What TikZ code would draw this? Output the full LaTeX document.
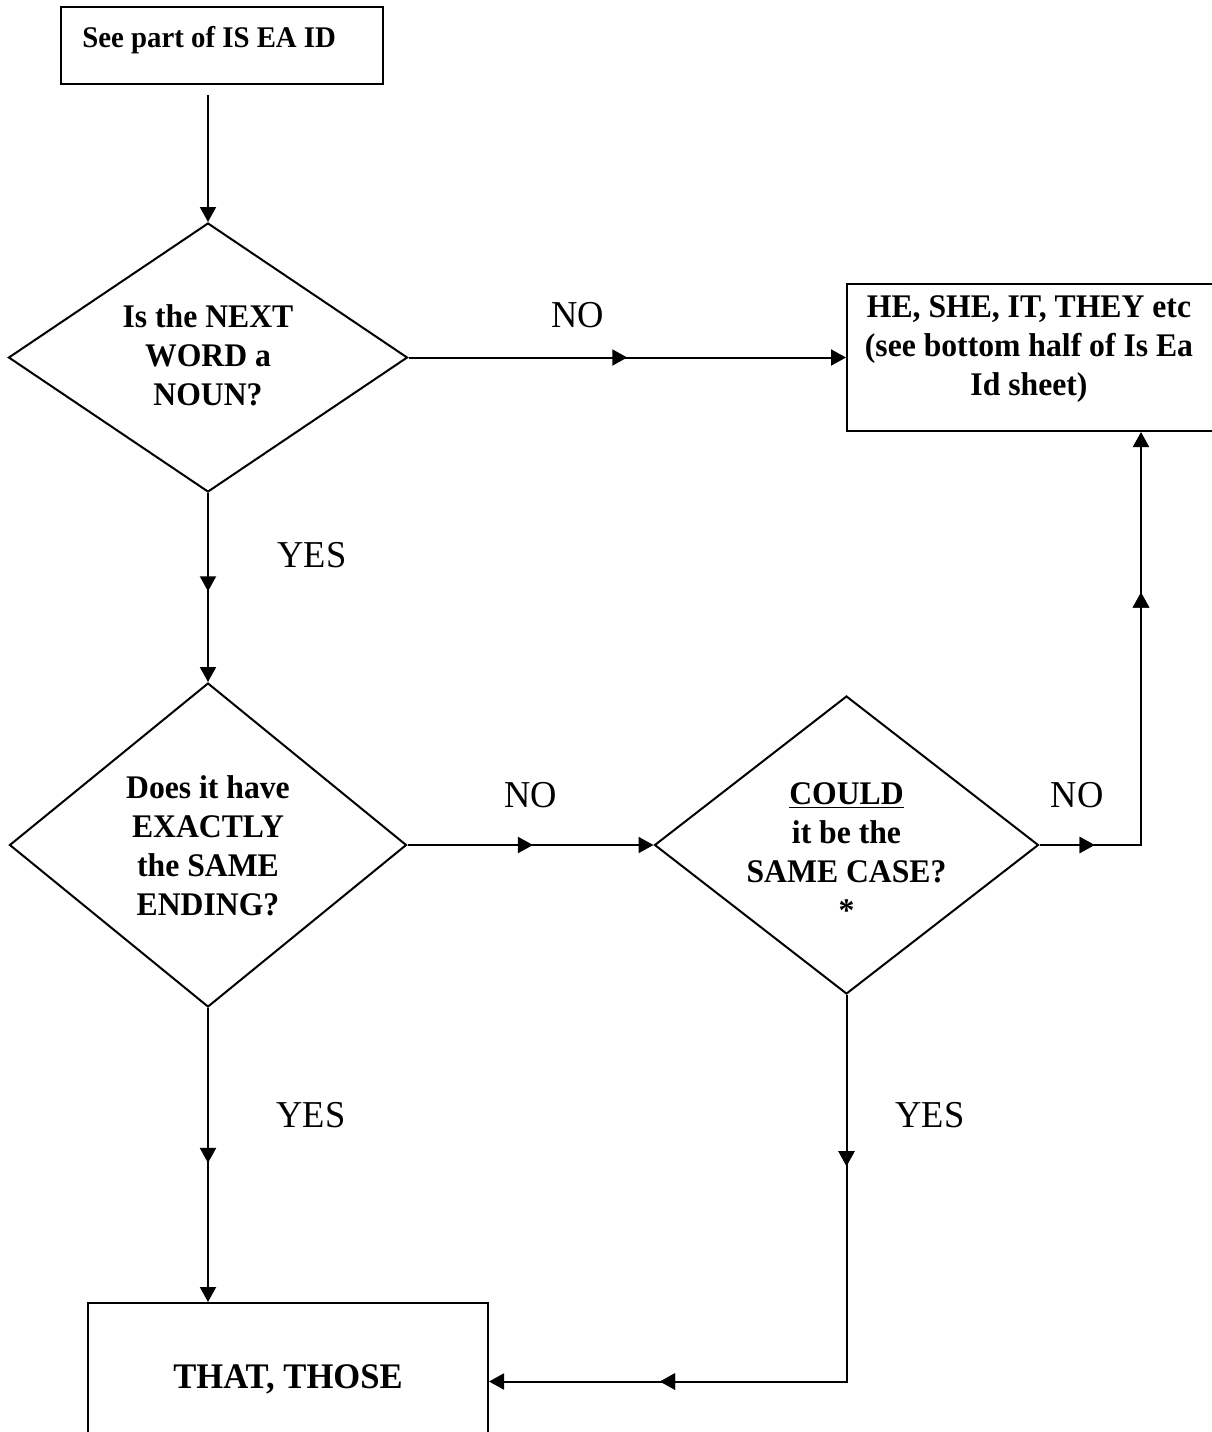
\documentclass[tikz,border=0pt]{standalone}
\usepackage{fontspec}
\setmainfont{Liberation Serif}
\newfontfamily\lblfont{Liberation Serif}[FakeStretch=0.96]
\newfontfamily\boldfont{Liberation Serif}[FakeStretch=0.96]
\usetikzlibrary{shapes.geometric,arrows.meta,decorations.markings}
\tikzset{
  tipA/.tip={Triangle[length=7.5pt,width=8pt]},
  conn/.style={line width=1pt, draw=black},
  flow/.style={conn, -tipA},
  midarr/.style={postaction={decorate}, decoration={markings, mark=at position #1 with {\arrow{tipA}}}},
  dia/.style={draw, line width=1pt, diamond, inner sep=0pt, fill=white},
  boxn/.style={draw, line width=1pt, rectangle, inner sep=0pt, fill=white},
  dtext/.style={font=\boldfont\bfseries\fontsize{16.5}{19.5}\selectfont, align=center, inner sep=0pt},
  lbl/.style={font=\lblfont\fontsize{19}{22}\selectfont, inner sep=0pt},
}
\begin{document}
\begin{tikzpicture}[x=0.5pt,y=-0.5pt]
\fill[white] (0,0) rectangle (1212,1432);
\useasboundingbox (0,0) rectangle (1212,1432);

% shapes
\node[boxn, minimum width=161pt, minimum height=38.5pt] (top) at (222,45.5) {};
\node[dia, minimum width=199.5pt, minimum height=134.5pt] (d1) at (208,357.5) {};
\node[dia, minimum width=198.5pt, minimum height=162pt] (d2) at (208,845) {};
\node[dia, minimum width=192pt, minimum height=149pt] (d3) at (846.5,845) {};
\node[boxn, minimum width=183.5pt, minimum height=73.5pt] (he) at (1030.5,357.5) {};
\node[boxn, minimum width=200pt, minimum height=78.5pt] (that) at (288,1381.5) {};

% texts
\node[anchor=base west, inner sep=0pt, font=\boldfont\bfseries\fontsize{15}{18}\selectfont] (toptext) at (82,47) {See part of IS EA ID};
\node[dtext] (d1text) at (208,355) {Is the NEXT\\WORD a\\NOUN?};
\node[dtext] (d2text) at (208,846) {Does it have\\EXACTLY\\the SAME\\ENDING?};
\node[dtext] (d3text) at (846.5,852) {\underline{COULD}\\it be the\\SAME CASE?\\*};
\node[dtext] (hetext) at (1029,349) {HE, SHE, IT, THEY etc\\(see bottom half of Is Ea\\Id sheet)};
\node[inner sep=0pt, font=\boldfont\bfseries\fontsize{18}{21}\selectfont] (thattext) at (288,1379.5) {THAT, THOSE};

% connectors
\coordinate (s0) at (208,95);
\coordinate (c1) at (1141,845);
\coordinate (c2) at (d3.south |- that.east);
\draw[flow] (s0) -- (d1.north);
\draw[flow, midarr=0.5] (d1.east) -- (d1.east -| he.west);
\draw[flow, midarr=0.52] (d1.south) -- (d2.north);
\draw[flow, midarr=0.51] (d2.east) -- (d3.west);
\draw[flow, midarr=27.5pt, midarr=177pt] (d3.east) -- (c1) -- (c1 |- he.south);
\draw[flow, midarr=0.527] (d2.south) -- (that.north -| d2.south);
\draw[flow, midarr=85.5pt, midarr=286.5pt] (d3.south) -- (c2) -- (that.east);

% labels
\node[lbl] (no1) at (578,315) {NO};
\node[lbl] (yes1) at (312,555) {YES};
\node[lbl] (no2) at (531,795) {NO};
\node[lbl] (no3) at (1077,795) {NO};
\node[lbl] (yes2) at (311,1115) {YES};
\node[lbl] (yes3) at (930,1115) {YES};
\end{tikzpicture}
\end{document}
